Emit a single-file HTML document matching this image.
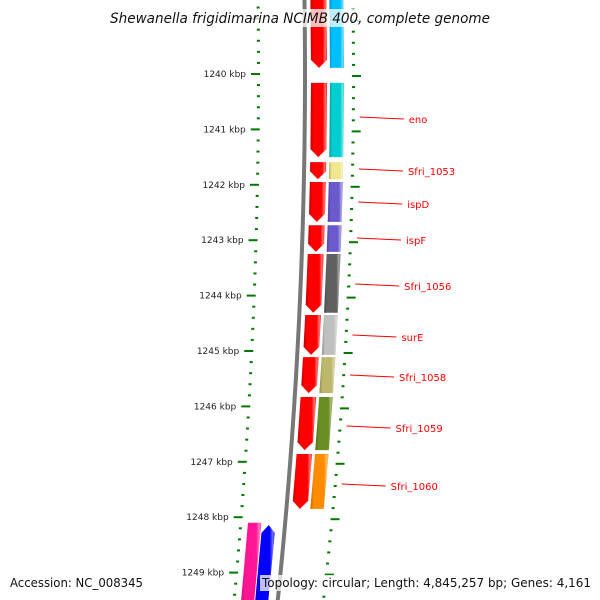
<!DOCTYPE html>
<html><head><meta charset="utf-8"><style>
html,body{margin:0;padding:0;background:#fff;width:600px;height:600px;overflow:hidden}
svg{display:block;font-family:"DejaVu Sans","Liberation Sans",sans-serif}
</style></head><body>
<svg id="map" width="600" height="600" viewBox="0 0 600 600">
<defs>
<linearGradient id="shade" x1="0" x2="1" y1="0" y2="0">
<stop offset="0" stop-color="#000" stop-opacity="0.25"/>
<stop offset="0.2" stop-color="#000" stop-opacity="0"/>
<stop offset="0.75" stop-color="#fff" stop-opacity="0"/>
<stop offset="0.9" stop-color="#fff" stop-opacity="0.45"/>
<stop offset="1" stop-color="#fff" stop-opacity="0.1"/>
</linearGradient>
</defs>
<g id="layer"></g>
</svg>
<script>
// data
const majorTicks = [1240,1241,1242,1243,1244,1245,1246,1247,1248,1249];
const fwdStart = [1238.5,1240.16,1241.59,1241.95,1242.73,1243.25,1244.35,1245.11,1245.83,1246.86];
const fwdEnd   = [1239.89,1241.50,1241.90,1242.67,1243.21,1244.31,1245.07,1245.76,1246.79,1247.85];
const cogColors = ["#00BFFF","#00CED1","#F0E68C","#6A5ACD","#6A5ACD","#606060","#C0C0C0","#BDB76B","#6B8E23","#FF8C00"];
const geneLabels = ["","eno","Sfri_1053","ispD","ispF","Sfri_1056","surE","Sfri_1058","Sfri_1059","Sfri_1060"];
const labelY = [0,119,171,204,240,286,337,377,428,486];
const revStart = [1248.14];
const revEnd = [1249.6];
const revCogStart = [1248.1];
const revCogColors = ["#FF1493"];

const NS="http://www.w3.org/2000/svg";
const layer=document.getElementById('layer');
function Y(k){return 74+(k-1240)*55.4;}
function X(y,r){return 259+r-8.8e-5*(1+r/390)*(y-74)*(y-74);}
function el(t,a,p){const e=document.createElementNS(NS,t);for(const k in a)e.setAttribute(k,a[k]);(p||layer).appendChild(e);return e;}

{const pts=[];for(let y=-10;y<=610;y+=10)pts.push(X(y,46)+','+y);
const b=el('polyline',{points:pts.join(' '),fill:'none',stroke:'#777','stroke-width':4});

}

for(let k=1238.6;k<=1250.1;k+=0.2){
  const kk=Math.round(k*10)/10;const y=Y(kk);
  const major=Math.abs(kk-Math.round(kk))<0.01;
  const xi=X(y,0), xo=X(y,94);
  const t1=el('line',{x1:major?xi-8:xi-2,y1:y,x2:xi+1,y2:y,stroke:'#007700','stroke-width':2});
  
  
  const t2=el('line',{x1:xo-1,y1:y+2,x2:major?xo+8:xo+2,y2:y+2,stroke:'#007700','stroke-width':2});
  
  
}
majorTicks.forEach(k=>{const y=Y(k);
  const t=el('text',{x:X(y,0)-13,y:y+3,'font-size':9,'text-anchor':'end',fill:'#222'});
  t.textContent=k+' kbp';
  
  });

function block(y1,y2,r1,r2,color,arrow,name){
  const a=8;let pts;
  const L1=X(y1,r1),R1=X(y1,r2),L2=X(y2,r1),R2=X(y2,r2);
  if(arrow==='down'){const ym=y2-a;pts=[[L1,y1],[R1,y1],[X(ym,r2),ym],[(L2+R2)/2,y2],[X(ym,r1),ym]];}
  else if(arrow==='up'){const ym=y1+a;pts=[[(L1+R1)/2,y1],[X(ym,r2),ym],[R2,y2],[L2,y2],[X(ym,r1),ym]];}
  else pts=[[L1,y1],[R1,y1],[R2,y2],[L2,y2]];
  const s=pts.map(p=>p.join(',')).join(' ');
  const g=el('g',{});
  
  
  el('polygon',{points:s,fill:color},g);
  el('polygon',{points:s,fill:'url(#shade)'},g);
}
fwdStart.forEach((s,i)=>{
  const y1=Y(s),y2=Y(fwdEnd[i]);
  block(y1,y2,52,68,'#FF0000','down','gene-'+(geneLabels[i]||'upstream'));
  block(y1,y2,71,85,cogColors[i],null,'cog-'+(geneLabels[i]||'upstream'));
  if(geneLabels[i]){
    const ly=labelY[i];const x0=X(Y(s+(fwdEnd[i]-s)/2),100)+1;
    const ln=el('line',{x1:x0,y1:ly-2,x2:x0+44,y2:ly,stroke:'#FF0000','stroke-width':1});
    
    
    const t=el('text',{x:x0+49,y:ly+4,'font-size':10,fill:'#FF0000'});
    t.textContent=geneLabels[i];
    
    
  }
});
revStart.forEach((s,i)=>{block(Y(s),Y(revEnd[i]),22,36,'#0000FF','up','reverse-gene');});
revCogStart.forEach((s,i)=>{block(Y(s),Y(1249.6),7,21,revCogColors[i],null,'reverse-cog');});

function label(x,y,txt,size,len,italic,name){
  const g=el('g',{});
  
  
  const t=el('text',{x:x,y:y,'font-size':size,textLength:len,lengthAdjust:'spacingAndGlyphs',fill:'#111','font-style':italic?'italic':'normal'},g);
  t.textContent=txt;
  const r=el('rect',{x:x-2,y:y-size,width:len+4,height:size+4,fill:'#fff','fill-opacity':0.75},g);
  g.insertBefore(r,t);
}
label(110,23,'Shewanella frigidimarina NCIMB 400, complete genome',14,380,true,'chart-title');
label(10,587,'Accession: NC_008345',12,133,false,'accession-label');
label(262,587,'Topology: circular; Length: 4,845,257 bp; Genes: 4,161',12,329,false,'genome-info-label');
</script>
</body></html>
